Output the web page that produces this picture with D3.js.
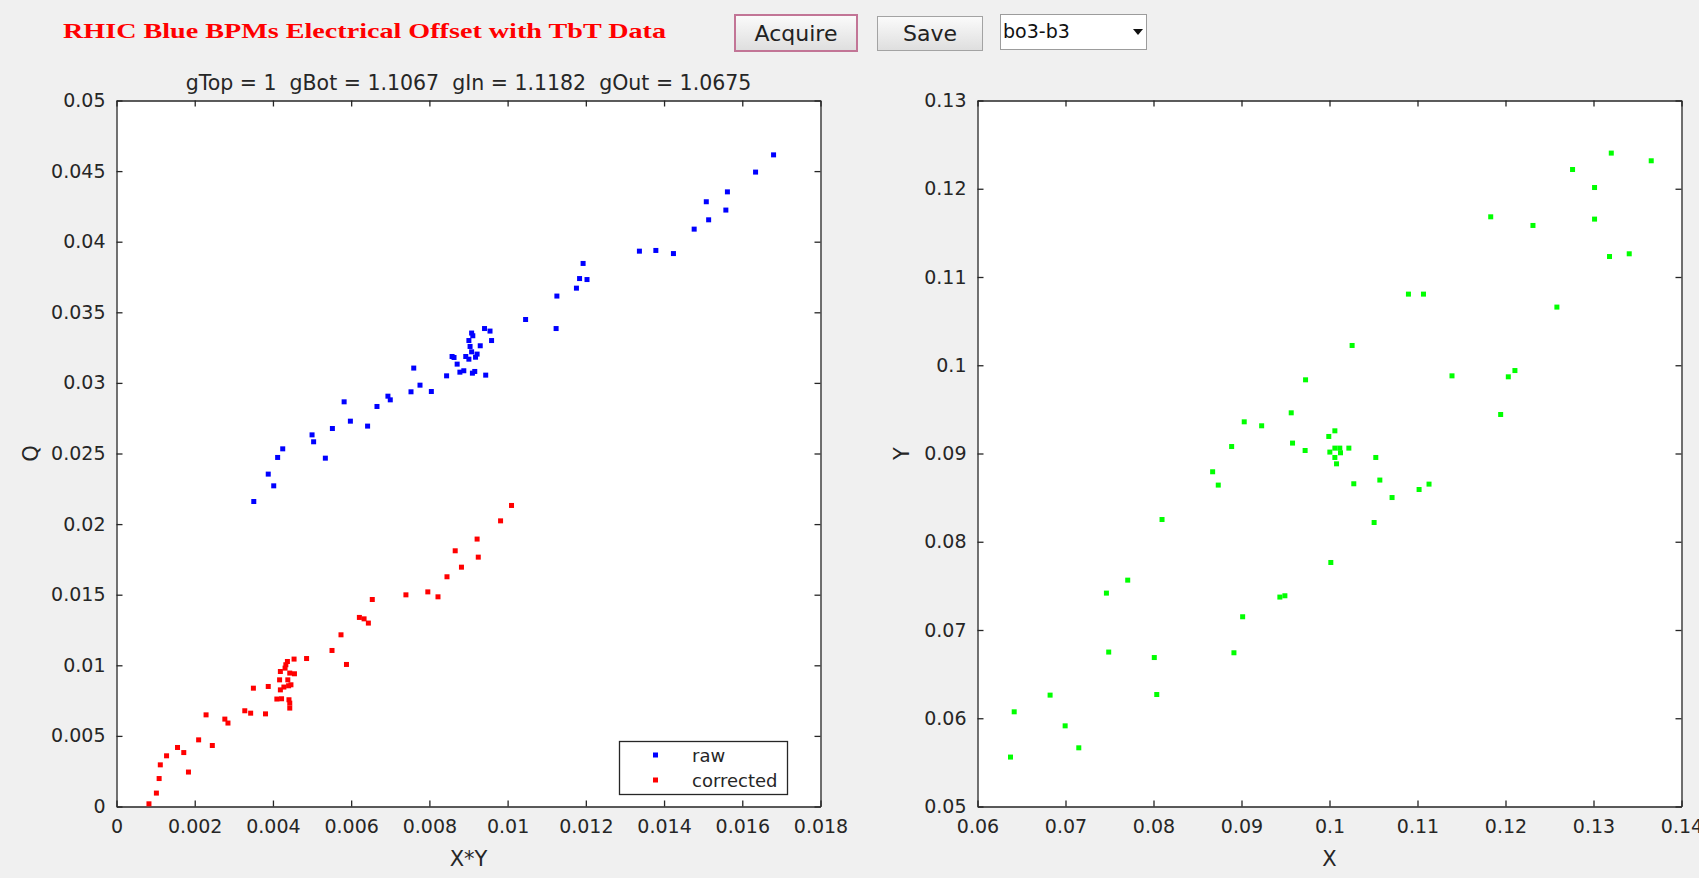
<!DOCTYPE html>
<html>
<head>
<meta charset="utf-8">
<script src="https://cdn.jsdelivr.net/npm/d3@7/dist/d3.min.js"></script>
<style>
  body { margin: 0; background: #f0f0f0; overflow: hidden; }
  svg text { font-family: "DejaVu Sans", sans-serif; fill: #262626; }
</style>
</head>
<body>
<svg id="fig" width="1699" height="878"></svg>
<script>
// raw points (blue): X*Y vs Q
const rawXY = [0.01680, 0.01634, 0.01562, 0.01508, 0.01558, 0.01514, 0.01477, 0.01337, 0.01379, 0.01424,
  0.01193, 0.01184, 0.01203, 0.01176, 0.01126, 0.01046, 0.01124, 0.00941, 0.00955, 0.00908,
  0.00911, 0.00901, 0.00959, 0.00930, 0.00904, 0.00908, 0.00922, 0.00893, 0.00858, 0.00863,
  0.00901, 0.00918, 0.00871, 0.00760, 0.00878, 0.00888, 0.00910, 0.00916, 0.00944, 0.00844,
  0.00776, 0.00753, 0.00805, 0.00351, 0.00388, 0.00402, 0.00412, 0.00425, 0.00500, 0.00504,
  0.00534, 0.00552, 0.00582, 0.00598, 0.00642, 0.00666, 0.00694, 0.00700];
const rawQ = [0.04615, 0.04493, 0.04353, 0.04283, 0.04224, 0.04155, 0.04089, 0.03933, 0.03938, 0.03916,
  0.03846, 0.03739, 0.03732, 0.03671, 0.03615, 0.03449, 0.03385, 0.03385, 0.03367, 0.03353,
  0.03334, 0.03300, 0.03300, 0.03263, 0.03258, 0.03220, 0.03204, 0.03187, 0.03187, 0.03180,
  0.03168, 0.03182, 0.03133, 0.03105, 0.03076, 0.03086, 0.03069, 0.03081, 0.03055, 0.03050,
  0.02984, 0.02937, 0.02939, 0.02160, 0.02354, 0.02271, 0.02472, 0.02533, 0.02632, 0.02583,
  0.02467, 0.02677, 0.02866, 0.02729, 0.02694, 0.02833, 0.02906, 0.02880];

// corrected points (red)
const corrXY = [0.01010, 0.00982, 0.00922, 0.00866, 0.00925, 0.00882, 0.00845, 0.00740, 0.00796, 0.00822,
  0.00654, 0.00621, 0.00633, 0.00644, 0.00574, 0.00551, 0.00588, 0.00486, 0.00454, 0.00437,
  0.00433, 0.00431, 0.00419, 0.00443, 0.00455, 0.00417, 0.00438, 0.00446, 0.00440, 0.00419,
  0.00428, 0.00388, 0.00350, 0.00410, 0.00422, 0.00441, 0.00443, 0.00443, 0.00328, 0.00343,
  0.00381, 0.00229, 0.00277, 0.00285, 0.00210, 0.00245, 0.00156, 0.00172, 0.00128, 0.00184,
  0.00112, 0.00109, 0.00102, 0.00083];
const corrQ = [0.02132, 0.02023, 0.01894, 0.01811, 0.01766, 0.01695, 0.01627, 0.01499, 0.01520, 0.01485,
  0.01466, 0.01339, 0.01329, 0.01299, 0.01216, 0.01105, 0.01006, 0.01048, 0.01044, 0.01027,
  0.01004, 0.00980, 0.00956, 0.00945, 0.00940, 0.00897, 0.00897, 0.00862, 0.00855, 0.00826,
  0.00846, 0.00850, 0.00838, 0.00761, 0.00763, 0.00756, 0.00732, 0.00697, 0.00678, 0.00661,
  0.00656, 0.00649, 0.00619, 0.00591, 0.00472, 0.00432, 0.00418, 0.00382, 0.00359, 0.00244,
  0.00295, 0.00198, 0.00095, 0.00019];

// beam positions (green): X vs Y
const posX = [0.06375, 0.06417, 0.06825, 0.06996, 0.07151, 0.07465, 0.07707, 0.07491, 0.08009, 0.08037,
  0.08097, 0.08672, 0.08736, 0.08888, 0.09031, 0.09229, 0.08914, 0.09013, 0.09436, 0.09493,
  0.09580, 0.09723, 0.09992, 0.10061, 0.10004, 0.10061, 0.10117, 0.10125, 0.10061, 0.10080,
  0.10220, 0.10526, 0.10276, 0.10572, 0.10711, 0.11018, 0.11131, 0.10507, 0.10015, 0.13202,
  0.13656, 0.12762, 0.13012, 0.13012, 0.11832, 0.12312, 0.13182, 0.13406, 0.10897, 0.11068,
  0.12584, 0.10257, 0.11392, 0.12032, 0.12107, 0.11945, 0.09728, 0.09565];
const posY = [0.05560, 0.06073, 0.06262, 0.05914, 0.05665, 0.07418, 0.07565, 0.06750, 0.06688, 0.06269,
  0.08252, 0.08793, 0.08642, 0.09079, 0.09359, 0.09314, 0.06742, 0.07150, 0.07373, 0.07388,
  0.09118, 0.09034, 0.09193, 0.09257, 0.09016, 0.09061, 0.09061, 0.09008, 0.08955, 0.08883,
  0.09061, 0.08955, 0.08657, 0.08699, 0.08501, 0.08592, 0.08653, 0.08218, 0.07765, 0.12404,
  0.12317, 0.12218, 0.12014, 0.11656, 0.11682, 0.11584, 0.11232, 0.11263, 0.10806, 0.10806,
  0.10659, 0.10224, 0.09880, 0.09869, 0.09940, 0.09442, 0.09835, 0.09461];

const leftXTicks = [0, 0.002, 0.004, 0.006, 0.008, 0.01, 0.012, 0.014, 0.016, 0.018];
const leftYTicks = [0, 0.005, 0.01, 0.015, 0.02, 0.025, 0.03, 0.035, 0.04, 0.045, 0.05];
const rightXTicks = [0.06, 0.07, 0.08, 0.09, 0.1, 0.11, 0.12, 0.13, 0.14];
const rightYTicks = [0.05, 0.06, 0.07, 0.08, 0.09, 0.1, 0.11, 0.12, 0.13];

const legendNames = ['raw', 'corrected'];
const headerText = 'RHIC Blue BPMs Electrical Offset with TbT Data';
const gainText = 'gTop = 1  gBot = 1.1067  gIn = 1.1182  gOut = 1.0675';
const bpmName = 'bo3-b3';

const axisColor = '#262626';
const svg = d3.select('#fig');

// ---- header controls ----
const defs = svg.append('defs');
const grad = defs.append('linearGradient').attr('id', 'btn').attr('x1', 0).attr('y1', 0).attr('x2', 0).attr('y2', 1);
grad.append('stop').attr('offset', '0%').attr('stop-color', '#fbfbfb');
grad.append('stop').attr('offset', '100%').attr('stop-color', '#dedede');

svg.append('text')
  .attr('x', 63).attr('y', 38)
  .attr('textLength', 603).attr('lengthAdjust', 'spacingAndGlyphs')
  .style('font-family', '"Liberation Serif", "Times New Roman", serif')
  .style('font-weight', 'bold').style('font-size', '22px')
  .style('fill', '#ff0000')
  .text(headerText);

const button = (x, y, w, h, label, stroke) => {
  svg.append('rect').attr('x', x).attr('y', y).attr('width', w).attr('height', h)
    .attr('fill', 'url(#btn)').attr('stroke', stroke).attr('stroke-width', stroke === '#a3a3a3' ? 1 : 2);
  svg.append('text').attr('x', x + w / 2).attr('y', y + h - 10)
    .attr('text-anchor', 'middle').style('font-size', '22px').style('fill', '#222')
    .text(label);
};
button(735, 15, 122, 36, 'Acquire', '#c27596');
button(877.5, 16.5, 105, 34, 'Save', '#a3a3a3');

svg.append('rect').attr('x', 1000.5).attr('y', 14.5).attr('width', 146).attr('height', 35)
  .attr('fill', '#ffffff').attr('stroke', '#9c9c9c');
svg.append('text').attr('x', 1003).attr('y', 38).style('font-size', '19px').style('fill', '#111')
  .text(bpmName);
svg.append('path').attr('d', 'M1133,29 L1143,29 L1138,35 Z').attr('fill', '#111');

// ---- plot helper ----
const tickFmt = d => String(+d.toFixed(6));

const makeAxes = (box, xTicks, yTicks, xLabel, yLabel, yLabelX) => {
  const x = d3.scaleLinear().domain(d3.extent(xTicks)).range([box.left, box.right]);
  const y = d3.scaleLinear().domain(d3.extent(yTicks)).range([box.bottom, box.top]);

  svg.append('rect')
    .attr('x', box.left).attr('y', box.top)
    .attr('width', box.right - box.left).attr('height', box.bottom - box.top)
    .attr('fill', '#ffffff');

  const style = g => {
    g.selectAll('path, line').attr('stroke', axisColor).attr('stroke-width', 1.3);
    g.selectAll('text').style('font-size', '19px').attr('fill', axisColor)
      .style('font-family', '"DejaVu Sans", sans-serif');
  };

  svg.append('g').attr('transform', `translate(0,${box.bottom})`)
    .call(d3.axisBottom(x).tickValues(xTicks).tickFormat(tickFmt).tickSizeInner(-6).tickSizeOuter(0).tickPadding(13))
    .call(style);
  svg.append('g').attr('transform', `translate(0,${box.top})`)
    .call(d3.axisTop(x).tickValues(xTicks).tickFormat('').tickSizeInner(-6).tickSizeOuter(0))
    .call(style);
  svg.append('g').attr('transform', `translate(${box.left},0)`)
    .call(d3.axisLeft(y).tickValues(yTicks).tickFormat(tickFmt).tickSizeInner(-6).tickSizeOuter(0).tickPadding(11))
    .call(style);
  svg.append('g').attr('transform', `translate(${box.right},0)`)
    .call(d3.axisRight(y).tickValues(yTicks).tickFormat('').tickSizeInner(-6).tickSizeOuter(0))
    .call(style);

  svg.append('text')
    .attr('x', (box.left + box.right) / 2).attr('y', box.bottom + 59)
    .attr('text-anchor', 'middle').style('font-size', '21px')
    .text(xLabel);
  svg.append('text')
    .attr('transform', `translate(${yLabelX},${(box.top + box.bottom) / 2}) rotate(-90)`)
    .attr('text-anchor', 'middle').style('font-size', '21px')
    .text(yLabel);

  return { x, y };
};

const drawPoints = (sc, xs, ys, color) => {
  svg.append('g').selectAll('rect')
    .data(xs.map((d, i) => [d, ys[i]]))
    .enter()
    .append('rect')
    .attr('x', d => sc.x(d[0]) - 2.5)
    .attr('y', d => sc.y(d[1]) - 2.5)
    .attr('width', 5)
    .attr('height', 5)
    .attr('fill', color);
};

// ---- left: Q vs X*Y ----
const leftBox = { left: 116.5, right: 820.5, top: 100.5, bottom: 806.5 };
const left = makeAxes(leftBox, leftXTicks, leftYTicks, 'X*Y', 'Q', 38);

svg.append('text')
  .attr('x', (leftBox.left + leftBox.right) / 2).attr('y', 90)
  .attr('text-anchor', 'middle').style('font-size', '20.5px').style('white-space', 'pre')
  .text(gainText);

drawPoints(left, rawXY, rawQ, '#0000ff');
drawPoints(left, corrXY, corrQ, '#ff0000');

// legend
const legend = svg.append('g');
legend.append('rect').attr('x', 619.5).attr('y', 741.5).attr('width', 168).attr('height', 53)
  .attr('fill', '#ffffff').attr('stroke', axisColor).attr('stroke-width', 1.3);
const legendColors = ['#0000ff', '#ff0000'];
legendNames.forEach((name, i) => {
  const cy = 755 + i * 25;
  legend.append('rect').attr('x', 653).attr('y', cy - 2.5).attr('width', 5).attr('height', 5)
    .attr('fill', legendColors[i]);
  legend.append('text').attr('x', 692).attr('y', cy + 6.5).style('font-size', '18px').text(name);
});

// ---- right: Y vs X ----
const rightBox = { left: 977.5, right: 1681.5, top: 100.5, bottom: 806.5 };
const right = makeAxes(rightBox, rightXTicks, rightYTicks, 'X', 'Y', 909);
drawPoints(right, posX, posY, '#00ff00');
</script>
</body>
</html>
